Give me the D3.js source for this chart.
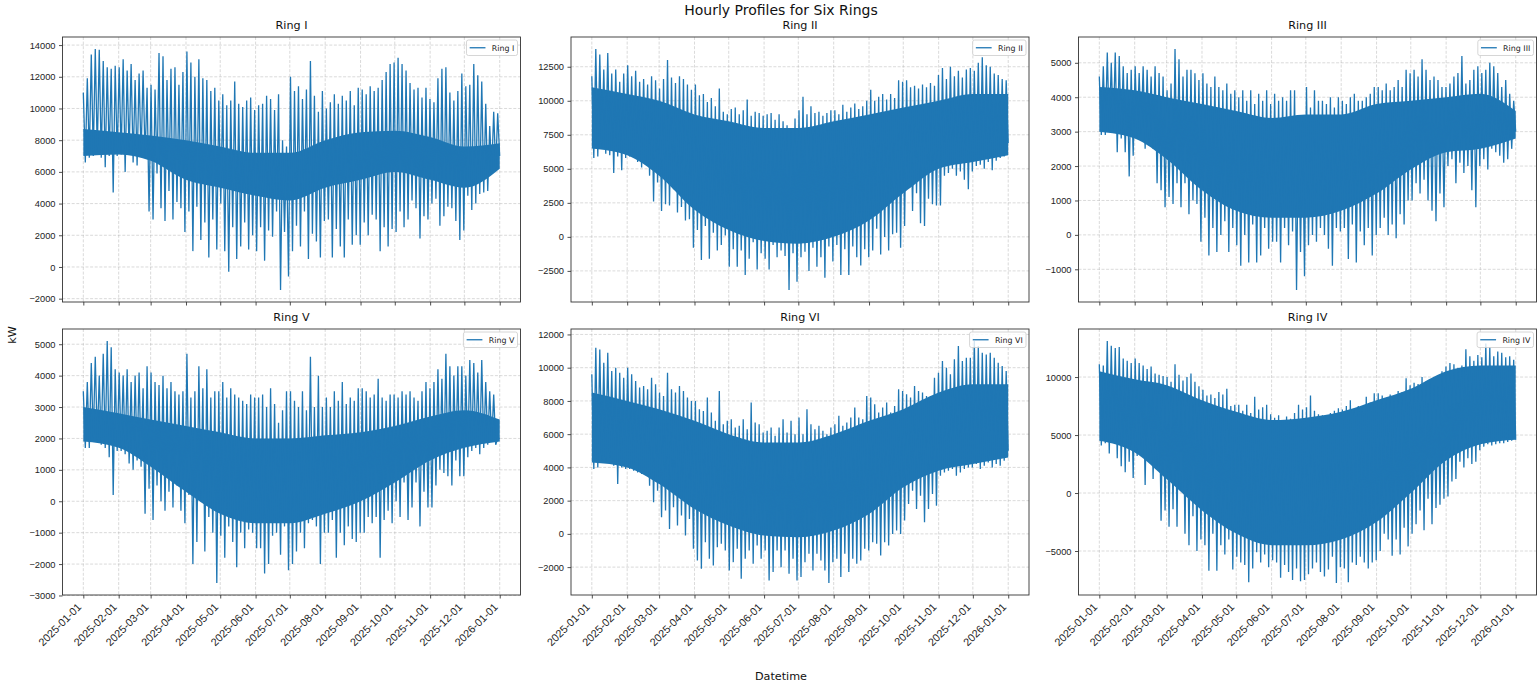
<!DOCTYPE html>
<html>
<head>
<meta charset="utf-8">
<script src="https://cdn.jsdelivr.net/npm/d3@7"></script>
<style>
  body { margin: 0; background: #fff; }
  svg { font-family: "DejaVu Sans", sans-serif; }
</style>
</head>
<body>
<svg id="chart" width="1538" height="686"></svg>
<script>
// month tick labels (also used as the dates of the band readings)
const monthTicks = ["2025-01-01","2025-02-01","2025-03-01","2025-04-01","2025-05-01","2025-06-01",
  "2025-07-01","2025-08-01","2025-09-01","2025-10-01","2025-11-01","2025-12-01","2026-01-01"];

// alternating peak / trough readings, ~3.5 days apart (105 each)
// plus the dense body of the trace at each month start (bandLow / bandHigh)
const ring1Peaks = [11000,11900,13400,13750,13700,13000,12600,12500,12700, 12600,13100,12400,12800,11800,12200,12400,11300,
  11500,11200,13500,13300,11800,12500,12600,11500,12300, 13600,12900,12000,13100,11900,11800,11100,11300,10500,
  10900,10200,10500,11700,10300,10100,10500,10700,9900, 10200,10300,10800,10600,9900,10900,8000,7600,
  12000,11100,11400,10600,11200,13000,10800,9800,11100, 10000,10400,10900,10300,10800,10500,11100,10200,11300,
  11200,10900,11400,11100,11300,11800,12300,12800, 12900,13200,12800,12400,11600,11200,11300,10700,11300,
  10600,10400,11900,12500,12600,11000,10500,11100, 12200,11400,11500,12800,12100,11700,10300,8900,9800,9700];
const ring1Troughs = [6600,6900,7000,7300,6900,6300,7000,4700,7000, 7100,6000,7200,6600,6400,7000,6900,3500,
  3000,5900,3700,2900,4800,3000,4100,3700,2200, 3500,1000,3800,1700,2800,600,3000,1100,4000,
  1000,-300,2500,500,1300,2800,1100,2000,1000, 2500,400,2300,1900,3500,-1450,2200,-600,
  1000,2600,1300,3500,500,2100,1600,600,2900, 3000,600,2400,1300,600,3000,1400,2000,1400,
  2800,2000,3300,3000,1000,2500,1300,2400, 2200,3500,2500,3000,4200,3700,1800,3200,3000,
  4000,4300,2600,3200,3800,3700,2900,1700, 2300,4500,3600,4000,4600,4700,4800,6000,6200,7000];
const ring1BandLow = [7000,7100,6700,5500,5000,4500,4200,5000,5500,6000,5500,5000,6200];
const ring1BandHigh = [8700,8500,8300,8000,7600,7200,7200,8000,8500,8600,8200,7600,7800];

const ring2Peaks = [11800,13800,13400,12300,13500,12000,12300,11400,12000, 12600,11800,12200,11400,11600,11200,11800,11500,
  10900,11600,13000,11700,11300,11800,11600,11200,10800, 11200,10400,10500,9900,10200,9600,10900,9200,9000,
  9400,9500,9000,9300,10100,8900,9200,9100,8900, 9000,9100,8600,9000,8500,8200,7900,8700,
  9300,10300,9000,9600,9100,9200,8900,9100,9300, 9300,9000,9700,9200,9500,9800,9400,9600,10000,
  10800,10000,10300,10500,10100,10500,10200,11500, 11400,11500,11000,11100,10900,11200,11000,11300,11100,
  11900,12400,11600,12500,11800,12200,11700,12300, 12400,12200,12800,13200,12600,12500,12000,11900,11600,11500];
const ring2Troughs = [5800,5900,6500,6100,6000,4700,5900,4900,5800, 5900,5800,5500,5100,5600,4500,2600,4000,
  1900,2400,2300,3500,1800,2200,1200,1300,-800, 500,-1700,800,-1600,300,-1000,-600,100,-2200,
  -900,-2200,-1000,-2800,-1600,-400,-2400,-1200,-1600, -2400,-600,-1500,-1000,-1400,-3900,-1200,-3300,
  -1500,-1100,-2500,-800,-2200,-1500,-3000,-700,-1800, -600,-2800,-900,-2800,-700,-1500,-2100,-900,-1500,
  -1000,600,-1300,0,-1000,200,300,-800, 800,3600,1900,3200,1000,800,2800,2400,2300,
  2300,4500,4700,5000,4500,4800,4200,3500, 4800,5200,5300,5000,5500,4900,5600,5800,5900,6900];
const ring2BandLow = [6500,6000,4500,2000,500,-300,-500,0,1200,3200,5000,5500,6000];
const ring2BandHigh = [11000,10500,10000,9000,8500,8000,8000,8500,9000,9500,10000,10500,10500];

const ring3Peaks = [4600,4900,5300,5000,5300,5200,4900,4700,4800, 4900,4700,4900,4800,4600,4900,4700,4600,
  4200,4400,5400,5100,4600,4800,4800,4700,4500, 4700,4400,4300,4600,4300,4200,4400,4100,4200,
  4000,4200,3900,4200,3800,4100,3900,4200,3800, 4100,3900,4000,3900,4200,4200,3300,3300,
  4300,3700,4200,3900,3900,3800,4000,3700,4000, 3900,3800,4000,4100,3900,3900,4000,4100,4300,
  4300,4200,4400,4200,4300,4500,4300,4800, 4700,4800,4600,5100,4800,4500,4600,4500,4300,
  4300,4400,4600,4700,5200,4400,4500,4800, 4900,4700,4800,5000,4900,4700,4300,4500,4100,3900];
const ring3Troughs = [2900,2900,3000,3100,2400,2800,2400,1700,2300, 2800,2900,2500,2600,2500,1500,1300,800,
  1100,900,1500,800,1500,600,1000,900,-200, 500,-600,200,-500,0,400,-500,200,-300,
  -900,0,-800,300,-800,-600,200,-400,-200, -200,-800,200,-300,100,-1600,-500,-1200,
  -300,0,-200,200,0,-400,-900,200,100, 200,-700,300,-800,100,-300,200,-600,0,
  200,500,0,300,-100,600,300,1000, 1000,1500,1200,1600,1000,700,400,1200,800,
  2000,2200,1500,2100,1800,2000,1300,800, 2000,2200,1900,2500,2400,2300,2100,2200,2500,3000];
const ring3BandLow = [3000,2800,2200,1300,700,500,500,700,1200,1900,2400,2500,2800];
const ring3BandHigh = [4300,4200,4000,3800,3600,3400,3500,3500,3800,3900,4000,4100,3600];

const ring5Peaks = [3500,3800,4400,4600,4000,4700,5100,4900,4200, 4100,4000,4200,3800,4000,4100,3600,4300,
  4100,3800,3700,4000,3600,3800,3500,3400,3500, 4700,3300,3500,4300,3600,4200,3300,3500,3500,
  3800,3300,3600,3400,3300,3200,3100,3400,3300, 3300,3400,3000,3600,3100,2500,2900,3500,
  3500,3200,3000,3500,2900,4600,3000,4000,3000, 3300,3000,3500,3200,3800,3100,3300,3200,3600,
  3600,3500,3300,3400,3900,3300,3200,3400, 3400,3300,3500,3400,3500,3300,3200,3500,3800,
  3600,3800,4200,3900,4700,4300,4000,4300, 4300,4000,4500,4400,4100,4500,3800,3500,3400,2000];
const ring5Troughs = [1700,1700,2000,1900,1800,1700,1400,200,1600, 1600,1500,1200,1000,1300,1100,-400,400,
  -600,500,0,-300,300,-200,500,-300,-700, 200,-2000,-1300,0,-1600,-500,-1000,-2600,-1100,
  -1800,-800,-1300,-2100,-1000,-1500,-900,-1000,-1500, -1500,-2300,-2000,-1100,-1000,-1700,-800,-2200,
  -2000,-1600,-1000,-1500,-700,-600,-800,-2000,-1000, -1000,-600,-1800,-1000,-1400,-800,-1200,-1300,-1000,
  -1000,-500,-700,-500,-1800,-600,-300,-700, 0,-500,600,-600,-200,600,-800,300,-200,
  -200,500,1000,900,800,500,1300,800, 800,1400,1600,1700,1500,1700,1800,1900,1800,2000];
const ring5BandLow = [1900,1700,1100,300,-400,-700,-700,-400,0,600,1300,1700,1900];
const ring5BandHigh = [3000,2800,2600,2400,2200,2000,2000,2100,2200,2400,2700,2900,2600];

const ring6Peaks = [9600,11200,11100,10300,10900,9800,10000,9700,9400, 10000,9600,9200,8800,8900,8700,9400,9000,
  8500,8300,9700,8700,8500,8900,8600,8200,8000, 8000,7500,7400,8200,7300,6800,8600,6600,6800,
  6900,6400,6500,6900,6300,7900,6700,6600,6100, 6200,6400,5900,6400,6900,6100,6800,6000,
  7000,6000,7500,6600,6300,6500,6200,6000,6400, 6600,7100,6500,6700,7000,7600,7000,6900,8300,
  8200,7800,7300,7600,7900,7300,7700,8700, 8600,8400,8200,8900,8600,8500,8300,8000,9400,
  9700,10400,10000,9600,10500,11300,10400,10600, 10600,11600,11300,10900,10800,10900,10600,10300,10100,9800];
const ring6Troughs = [3900,4000,4400,4300,4600,4100,3000,4000,3900, 3900,3800,3700,3600,3700,2900,1900,2600,
  1000,1400,300,1600,500,1100,-100,900,-900, -1600,-2100,-500,-1500,-1900,-800,-600,-1000,-2200,
  -1700,-900,-2700,-1500,-1000,-1800,-700,-1500,-1000, -2800,-2300,-1000,-2000,-1000,-2400,-1500,-2800,
  -2600,-1700,-1200,-2200,-1200,-1600,-2200,-2950,-1700, -1500,-2600,-1200,-2300,-1500,-1800,-1600,-900,-1000,
  -500,-600,-1300,-500,-700,0,200,0, 800,1800,2600,1500,2300,700,1500,2400,1700,
  3500,3700,3800,3900,3500,3700,3900,4000, 4000,4200,3900,4100,4300,4000,4200,4100,4400,5000];
const ring6BandLow = [4300,4000,3000,1500,500,-100,-200,200,1200,2800,3800,4200,4600];
const ring6BandHigh = [8500,8000,7500,6800,6000,5500,5500,6000,6800,7500,8500,9000,9000];

const ring4Peaks = [11100,11000,13100,12700,12500,12600,11600,11400,11200, 11600,11200,11000,10700,10900,10300,10200,10100,
  10000,9600,11100,10200,9700,10000,10300,9600,9200, 8900,8400,8500,8200,8700,8500,9000,7500,7600,
  7600,7100,7600,6900,8300,7200,7400,7600,6800, 6500,6700,6300,6600,6400,6900,7600,7200,
  7400,8400,7100,6800,6700,6500,6900,7100,7300, 7200,7500,8000,7100,7500,7400,8300,7800,8600,
  8600,8400,8000,8500,8100,8800,8700,9900, 9300,9500,9400,10000,9600,9800,9300,9200,10500,
  10900,11200,11100,10800,11000,12400,11800,11400, 11900,11700,12900,12600,11800,12200,12100,11700,11800,11500];
const ring4Troughs = [4100,4300,3400,4500,3000,2300,1800,2700,1300, 3200,4000,700,3000,1200,2300,-2400,-1500,
  -2900,-1400,-2900,200,-3500,-4500,-2000,-5000,-4000, -4500,-6700,-3500,-6700,-4500,-5300,-4000,-6600,-5500,
  -6000,-6200,-7700,-6500,-5100,-6000,-5300,-6400,-5800, -6000,-7300,-6200,-6800,-7500,-6500,-7600,-7500,
  -7000,-6500,-6000,-6800,-7200,-6600,-5500,-7750,-6400, -6500,-7700,-6000,-6200,-5500,-6000,-6500,-6000,-5800,
  -5000,-3500,-4000,-5400,-4000,-5300,-3000,-4600, -3500,-2700,-1500,-3200,-500,-2700,-1300,-1000,-500,
  -300,1000,1200,2700,2200,3000,2500,2700, 3700,4000,4200,4100,4200,4300,4300,4400,4500,4600];
const ring4BandLow = [4500,3500,1200,-1500,-3500,-4500,-4500,-4000,-2500,0,2800,4200,4600];
const ring4BandHigh = [10500,9800,9300,8000,7000,6300,6500,7000,8000,9000,10500,11000,11000];

// y tick values for each panel
const yTicks1 = [-2000,0,2000,4000,6000,8000,10000,12000,14000];
const yTicks2 = [-2500,0,2500,5000,7500,10000,12500];
const yTicks3 = [-1000,0,1000,2000,3000,4000,5000];
const yTicks5 = [-3000,-2000,-1000,0,1000,2000,3000,4000,5000];
const yTicks6 = [-2000,0,2000,4000,6000,8000,10000,12000];
const yTicks4 = [-5000,0,5000,10000];

const panels = [
  { name: "Ring I",   peaks: ring1Peaks, troughs: ring1Troughs, low: ring1BandLow, high: ring1BandHigh, ticks: yTicks1 },
  { name: "Ring II",  peaks: ring2Peaks, troughs: ring2Troughs, low: ring2BandLow, high: ring2BandHigh, ticks: yTicks2 },
  { name: "Ring III", peaks: ring3Peaks, troughs: ring3Troughs, low: ring3BandLow, high: ring3BandHigh, ticks: yTicks3 },
  { name: "Ring V",   peaks: ring5Peaks, troughs: ring5Troughs, low: ring5BandLow, high: ring5BandHigh, ticks: yTicks5 },
  { name: "Ring VI",  peaks: ring6Peaks, troughs: ring6Troughs, low: ring6BandLow, high: ring6BandHigh, ticks: yTicks6 },
  { name: "Ring IV",  peaks: ring4Peaks, troughs: ring4Troughs, low: ring4BandLow, high: ring4BandHigh, ticks: yTicks4 }
];

const color = "#1f77b4";
const svg = d3.select("#chart");
const lefts = [62.5, 571, 1078.5], tops = [37, 329];
const pw = 458, heights = [265, 266];

const parse = d3.utcParse("%Y-%m-%d");
const monthDates = monthTicks.map(parse);
const start = monthDates[0];
const end = new Date(+start + 8759 * 3600e3);   // last hourly sample
const span = end - start;
const minus = d => d < 0 ? "\u2212" + Math.abs(d) : String(d);

panels.forEach((p, k) => {
  const row = Math.floor(k / 3), col = k % 3;
  const ph = heights[row];
  const g = svg.append("g").attr("transform", `translate(${lefts[col]},${tops[row]})`);

  // series: peaks and troughs interleaved over the year
  const n = p.peaks.length;
  const step = span / (2 * n - 1);
  const series = [];
  p.peaks.forEach((v, i) => {
    series.push({ t: new Date(+start + 2 * i * step), v: v });
    series.push({ t: new Date(+start + (2 * i + 1) * step), v: p.troughs[i] });
  });
  const band = monthDates.map((d, i) => ({ t: d, lo: p.low[i], hi: p.high[i] }));

  const x = d3.scaleUtc()
    .domain([new Date(+start - 0.05 * span), new Date(+end + 0.05 * span)])
    .range([0, pw]);
  const ext = d3.extent(series, d => d.v);
  const pad = (ext[1] - ext[0]) * 0.05;
  const y = d3.scaleLinear().domain([ext[0] - pad, ext[1] + pad]).range([ph, 0]);

  // grid
  const grid = g.append("g").attr("stroke", "#b0b0b0").attr("stroke-opacity", 0.6)
    .attr("stroke-width", 0.8).attr("stroke-dasharray", "3,1.6");
  grid.selectAll(".vx").data(monthDates).enter().append("line")
    .attr("x1", d => x(d)).attr("x2", d => x(d)).attr("y1", 0).attr("y2", ph);
  grid.selectAll(".hy").data(p.ticks).enter().append("line")
    .attr("x1", 0).attr("x2", pw).attr("y1", d => y(d)).attr("y2", d => y(d));

  // dense body of the trace
  g.append("path").datum(band)
    .attr("fill", color)
    .attr("d", d3.area().x(d => x(d.t)).y0(d => y(d.lo)).y1(d => y(d.hi)).curve(d3.curveMonotoneX));

  // the trace itself
  g.append("path").datum(series)
    .attr("fill", "none").attr("stroke", color).attr("stroke-width", 1.3)
    .attr("stroke-linejoin", "miter")
    .attr("d", d3.line().x(d => x(d.t)).y(d => y(d.v)));

  // axes
  const ya = g.append("g").call(d3.axisLeft(y).tickValues(p.ticks).tickSize(3.5).tickPadding(3.5).tickFormat(minus));
  const xa = g.append("g").attr("transform", `translate(0,${ph})`)
    .call(d3.axisBottom(x).tickValues(monthDates).tickSize(3.5).tickFormat((d, i) => row === 1 ? monthTicks[i] : ""));
  [ya, xa].forEach(a => {
    a.select(".domain").remove();
    a.selectAll("line").attr("stroke", "#222").attr("stroke-width", 0.8);
    a.selectAll("text").attr("fill", "#222").style("font-size", "9.3px");
  });
  ya.selectAll("text").attr("dy", "0.33em");
  if (row === 1) {
    xa.selectAll("text")
      .style("font-size", "10.8px")
      .attr("x", 0).attr("y", 0).attr("dy", 0)
      .attr("text-anchor", "end")
      .attr("transform", "translate(-1.8,12.8) rotate(-45)");
  }

  // frame
  g.append("rect").attr("width", pw).attr("height", ph)
    .attr("fill", "none").attr("stroke", "#333").attr("stroke-width", 0.9);

  // title
  g.append("text").attr("x", pw / 2).attr("y", -8.5).attr("text-anchor", "middle")
    .style("font-size", "11.2px").attr("fill", "#111").text(p.name);

  // legend
  const fs = 7.9;
  const lg = g.append("g");
  const box = lg.append("rect").attr("rx", 2).attr("fill", "#fff").attr("fill-opacity", 0.8)
    .attr("stroke", "#ccc").attr("stroke-width", 0.8);
  const label = lg.append("text").style("font-size", fs + "px").attr("fill", "#222").text(p.name);
  const tw = label.node().getComputedTextLength();
  const bw = 3.2 + 15.8 + 6.3 + tw + 3.2, bh = 15.5;
  const bx = pw - 3 - bw, by = 3;
  box.attr("x", bx).attr("y", by).attr("width", bw).attr("height", bh);
  lg.append("line").attr("x1", bx + 3.2).attr("x2", bx + 19).attr("y1", by + bh / 2).attr("y2", by + bh / 2)
    .attr("stroke", color).attr("stroke-width", 1.3);
  label.attr("x", bx + 25.3).attr("y", by + bh / 2).attr("dy", "0.35em");
});

// figure texts
svg.append("text").attr("x", 781).attr("y", 15).attr("text-anchor", "middle")
  .style("font-size", "14px").attr("fill", "#111").text("Hourly Profiles for Six Rings");
svg.append("text").attr("x", 781).attr("y", 680).attr("text-anchor", "middle")
  .style("font-size", "11.2px").attr("fill", "#111").text("Datetime");
svg.append("text").attr("transform", "translate(16,335) rotate(-90)").attr("text-anchor", "middle")
  .style("font-size", "11.2px").attr("fill", "#111").text("kW");
</script>
</body>
</html>
